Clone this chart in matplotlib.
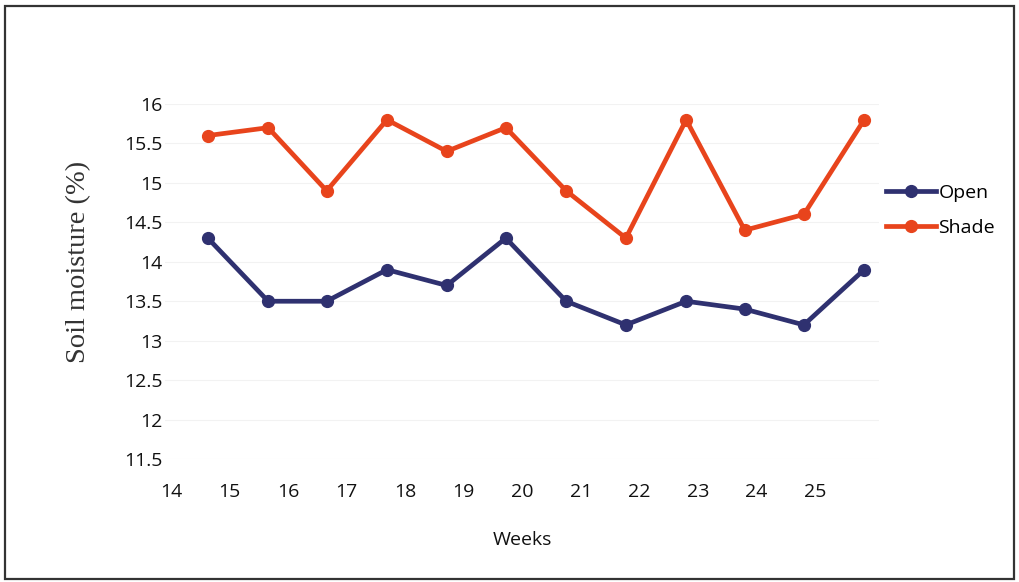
import matplotlib
matplotlib.use('Agg')
import matplotlib.pyplot as plt
from matplotlib.patches import Rectangle

# soil moisture per week, open plot vs shaded plot
week_pos = [14.63, 15.66, 16.66, 17.69, 18.71, 19.72, 20.75, 21.77, 22.80, 23.80, 24.81, 25.84]
open_moist = [14.3, 13.5, 13.5, 13.9, 13.7, 14.3, 13.5, 13.2, 13.5, 13.4, 13.2, 13.9]
shade_moist = [15.6, 15.7, 14.9, 15.8, 15.4, 15.7, 14.9, 14.3, 15.8, 14.4, 14.6, 15.8]
week_ticks = [14, 15, 16, 17, 18, 19, 20, 21, 22, 23, 24, 25]
y_ticks = [11.5, 12, 12.5, 13, 13.5, 14, 14.5, 15, 15.5, 16]

open_col = '#2f3170'
shade_col = '#e8441c'
sans = 'Open Sans'

fig = plt.figure(figsize=(10.19, 5.82), dpi=100)
ax = fig.add_axes([0.162, 0.2113, 0.701, 0.61])

ax.plot(week_pos, open_moist, color=open_col, lw=3.4, marker='o', ms=8.5,
        label='Open', clip_on=False, zorder=3)
ax.plot(week_pos, shade_moist, color=shade_col, lw=3.4, marker='o', ms=8.5,
        label='Shade', clip_on=False, zorder=3)

ax.set_xlim(13.9, 26.1)
ax.set_ylim(11.5, 16)
ax.set_xticks(week_ticks)
ax.set_yticks(y_ticks)
ax.set_yticklabels([f'{v:g}' for v in y_ticks])
ax.grid(axis='y', color='#f2f2f2', lw=0.8)
ax.set_axisbelow(True)
for s in ax.spines.values():
    s.set_visible(False)
ax.tick_params(length=0, labelsize=14, colors='#111111')
ax.tick_params(axis='x', pad=17)
ax.tick_params(axis='y', pad=2)
for lab in ax.get_xticklabels() + ax.get_yticklabels():
    lab.set_family(sans)

ax.set_ylabel('Soil moisture (%)', family='Liberation Serif', fontsize=20.5,
              color='#333333')
ax.yaxis.set_label_coords(-0.103, 0.556)
ax.set_xlabel('Weeks', family=sans, fontsize=14, color='#111111', labelpad=22)

leg = ax.legend(loc='center left', bbox_to_anchor=(0.99, 0.70), frameon=False,
                prop={'family': sans, 'size': 14}, handlelength=2.6,
                handletextpad=0.1, labelspacing=0.85, borderaxespad=0.3)

# outer frame round the whole chart
fig.patches.append(Rectangle((0.005, 0.006), 0.99, 0.984, transform=fig.transFigure,
                             fill=False, edgecolor='#333333', lw=1.6))

fig.savefig('out.png', dpi=100)
